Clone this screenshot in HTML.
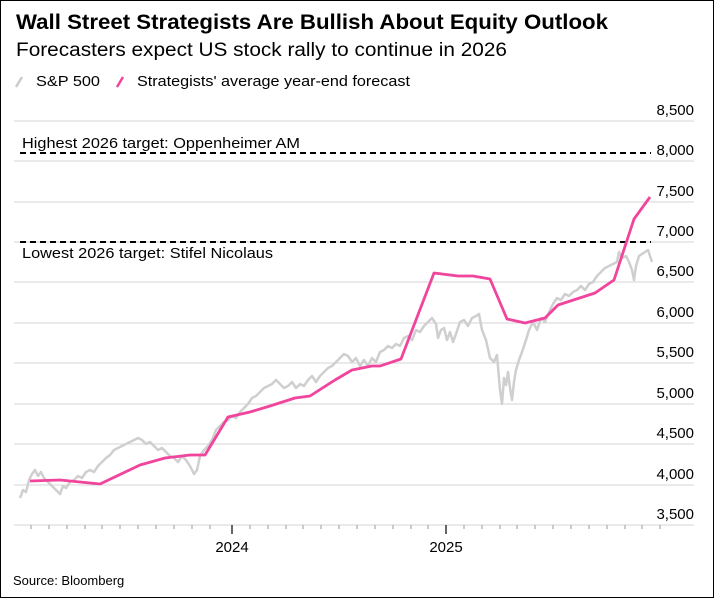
<!DOCTYPE html>
<html><head><meta charset="utf-8"><style>
body{margin:0;background:#fff}
.f{position:absolute;left:0;top:0;width:712px;height:596px;border:1px solid #000;background:#fff;font-family:"Liberation Sans",sans-serif;overflow:hidden}
</style></head><body><div class="f">
<svg width="714" height="598" style="position:absolute;left:-1px;top:-1px" font-family="Liberation Sans, sans-serif">
<text x="16" y="29" font-size="21" font-weight="bold" fill="#000" textLength="592" lengthAdjust="spacingAndGlyphs">Wall Street Strategists Are Bullish About Equity Outlook</text>
<text x="16" y="56" font-size="19" fill="#000" textLength="491" lengthAdjust="spacingAndGlyphs">Forecasters expect US stock rally to continue in 2026</text>
<line x1="16" y1="87" x2="22" y2="77" stroke="#ccc" stroke-width="2.5"/>
<text x="36" y="86" font-size="15" textLength="64" lengthAdjust="spacingAndGlyphs">S&amp;P 500</text>
<line x1="117" y1="87" x2="123" y2="77" stroke="#f0449d" stroke-width="2.5"/>
<text x="137" y="86" font-size="15" textLength="273" lengthAdjust="spacingAndGlyphs">Strategists' average year-end forecast</text>
<g stroke="#d6d6d6" stroke-width="1">
<line x1="14" y1="121" x2="694" y2="121"/><line x1="14" y1="161" x2="694" y2="161"/><line x1="14" y1="202" x2="694" y2="202"/><line x1="14" y1="242" x2="694" y2="242"/><line x1="14" y1="282" x2="694" y2="282"/><line x1="14" y1="323" x2="694" y2="323"/><line x1="14" y1="363" x2="694" y2="363"/><line x1="14" y1="404" x2="694" y2="404"/><line x1="14" y1="444" x2="694" y2="444"/><line x1="14" y1="485" x2="694" y2="485"/><line x1="14" y1="525" x2="694" y2="525"/>
</g>
<g font-size="15" text-anchor="end" fill="#000">
<text x="694" y="115">8,500</text><text x="694" y="155">8,000</text><text x="694" y="196">7,500</text><text x="694" y="236">7,000</text><text x="694" y="276">6,500</text><text x="694" y="317">6,000</text><text x="694" y="357">5,500</text><text x="694" y="398">5,000</text><text x="694" y="438">4,500</text><text x="694" y="479">4,000</text><text x="694" y="519">3,500</text>
</g>
<g stroke="#999" stroke-width="1">
<path d="M31 525v4M49 525v4M67 525v4M85 525v4M102 525v4M120 525v4M138 525v4M156 525v4M174 525v4M192 525v4M210 525v4M250 525v4M268 525v4M286 525v4M303 525v4M321 525v4M339 525v4M357 525v4M375 525v4M393 525v4M411 525v4M428 525v4M464 525v4M482 525v4M500 525v4M517 525v4M535 525v4M553 525v4M571 525v4M589 525v4M607 525v4M625 525v4M642 525v4M660 525v4"/>
</g>
<path d="M232 525v9M446 525v9" stroke="#333" stroke-width="1.5"/>
<text x="232" y="552" font-size="15" text-anchor="middle">2024</text>
<text x="446" y="552" font-size="15" text-anchor="middle">2025</text>
<line x1="20" y1="153" x2="651" y2="153" stroke="#000" stroke-width="2" stroke-dasharray="6,4"/>
<text x="22" y="148" font-size="15" textLength="278" lengthAdjust="spacingAndGlyphs">Highest 2026 target: Oppenheimer AM</text>
<line x1="20" y1="242" x2="651" y2="242" stroke="#000" stroke-width="2" stroke-dasharray="6,4"/>
<text x="22" y="258" font-size="15" textLength="251" lengthAdjust="spacingAndGlyphs">Lowest 2026 target: Stifel Nicolaus</text>
<polyline fill="none" stroke="#cfcfcf" stroke-width="2.5" stroke-linejoin="round" points="20,498 23,490 26,492 29,480 32,474 35,470 38,476 41,472 44,478 48,482 52,486 56,490 60,494 63,486 66,488 70,482 74,480 78,476 82,478 86,472 90,470 94,472 98,466 102,462 106,458 110,455 114,450 118,448 122,446 126,444 130,442 134,440 138,438 142,440 146,444 150,442 154,446 158,450 162,448 166,452 170,456 174,458 178,462 182,456 186,460 190,466 194,474 197,470 200,456 204,450 208,446 212,440 216,430 220,426 224,422 228,420 232,416 236,418 240,412 244,408 248,404 252,398 256,396 260,392 264,388 268,386 272,384 276,380 280,384 284,388 288,386 292,382 296,388 300,384 304,386 308,380 312,376 316,382 320,376 324,372 328,368 332,366 336,362 340,358 344,354 348,356 352,362 356,358 360,366 364,360 368,366 372,358 376,362 380,352 384,350 388,346 392,348 396,344 400,346 404,338 408,336 412,340 416,330 420,332 424,326 428,322 432,318 436,324 438,338 441,330 444,328 447,340 450,332 453,342 456,334 460,322 464,320 468,326 472,318 476,316 479,314 482,330 486,340 490,358 494,362 497,355 500,390 502,404 504,378 506,385 508,372 510,388 512,400 514,382 516,370 519,360 522,352 526,340 529,330 533,322 537,330 541,318 545,322 549,312 553,304 557,298 561,300 565,294 569,296 573,292 577,290 581,286 585,290 589,284 593,282 597,276 601,272 605,268 609,266 613,264 617,262 619,252 622,258 626,256 629,262 632,270 634,280 636,266 639,256 642,254 645,252 648,250 650,256 652,262"/>
<polyline fill="none" stroke="#f0449d" stroke-width="2.8" stroke-linejoin="round" points="30,481 60,480 100,484 140,465 165,458 190,455 205,455 228,417 250,412 270,406 295,398 310,396 335,380 352,370 372,366 380,366 401,359 434,273 458,276 473,276 490,279 507,319 525,323 545,318 558,305 595,293 614,280 634,219 650,197"/>
<text x="13" y="585" font-size="13">Source: Bloomberg</text>
</svg></div></body></html>
